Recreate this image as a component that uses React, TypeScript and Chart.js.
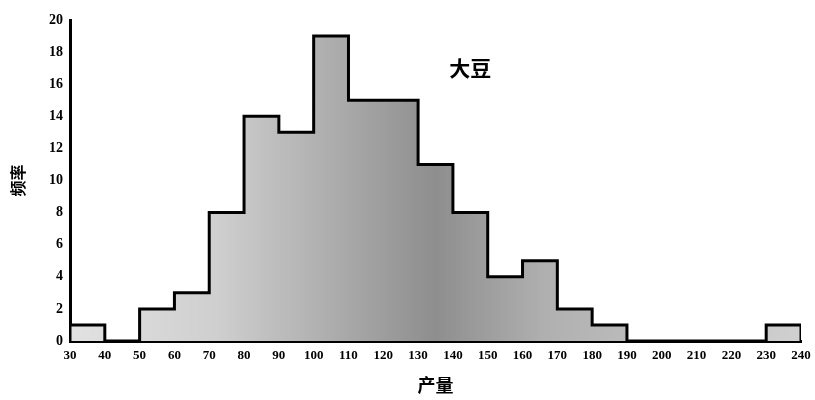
import React, { useEffect, useRef } from "react";
import { Chart, registerables } from "chart.js";

Chart.register(...registerables);

const binStarts = [30, 40, 50, 60, 70, 80, 90, 100, 110, 120, 130, 140, 150, 160, 170, 180, 190, 200, 210, 220, 230];
const counts = [1, 0, 2, 3, 8, 14, 13, 19, 15, 15, 11, 8, 4, 5, 2, 1, 0, 0, 0, 0, 1];
const binWidth = 10;
const xTicks = [30, 40, 50, 60, 70, 80, 90, 100, 110, 120, 130, 140, 150, 160, 170, 180, 190, 200, 210, 220, 230, 240];
const yTicks = [0, 2, 4, 6, 8, 10, 12, 14, 16, 18, 20];
const cropLabel = "大豆";
const cropLabelPos = { x: 145, y: 17 };
const xTitle = "产量";
const yTitle = "频率";

const labelPlugin = {
  id: "cropLabel",
  afterDatasetsDraw(chart: any) {
    const { ctx, scales } = chart;
    const px = scales.x.getPixelForValue(cropLabelPos.x);
    const py = scales.y.getPixelForValue(cropLabelPos.y);
    ctx.save();
    ctx.fillStyle = "#000";
    ctx.font = "bold 21px 'Noto Sans CJK SC'";
    ctx.textAlign = "center";
    ctx.textBaseline = "middle";
    ctx.fillText(cropLabel, px, py);
    ctx.restore();
  },
};

export default function App() {
  const ref = useRef<HTMLCanvasElement>(null);
  useEffect(() => {
    if (!ref.current) return;
    const pts: { x: number; y: number }[] = [{ x: binStarts[0], y: 0 }];
    binStarts.forEach((s, i) => pts.push({ x: s, y: counts[i] }));
    pts.push({ x: binStarts[binStarts.length - 1] + binWidth, y: counts[counts.length - 1] });
    pts.push({ x: binStarts[binStarts.length - 1] + binWidth, y: 0 });

    const chart = new Chart(ref.current, {
      type: "line",
      data: {
        datasets: [
          {
            data: pts,
            stepped: "before",
            borderColor: "#000",
            borderWidth: 3,
            pointRadius: 0,
            fill: "origin",
            backgroundColor: (c: any) => {
              const area = c.chart.chartArea;
              if (!area) return "#bbb";
              const g = c.chart.ctx.createLinearGradient(area.left, 0, area.right, 0);
              g.addColorStop(0, "#e2e2e2");
              g.addColorStop(0.2, "#cfcfcf");
              g.addColorStop(0.38, "#a8a8a8");
              g.addColorStop(0.5, "#8e8e8e");
              g.addColorStop(0.65, "#b0b0b0");
              g.addColorStop(1, "#d0d0d0");
              return g;
            },
          } as any,
        ],
      },
      options: {
        animation: false,
        responsive: true,
        maintainAspectRatio: false,
        layout: { padding: { top: 20, right: 14, left: 4, bottom: 0 } },
        plugins: { legend: { display: false }, tooltip: { enabled: false } },
        scales: {
          x: {
            type: "linear",
            min: 30,
            max: 240,
            afterBuildTicks: (s: any) => {
              s.ticks = xTicks.map((v) => ({ value: v }));
            },
            afterFit: (s: any) => {
              s.height = 59;
            },
            grid: { display: false, drawTicks: true, tickLength: 5, tickColor: "#000", tickWidth: 2 } as any,
            border: { display: true, color: "#000", width: 3 },
            ticks: {
              color: "#000",
              font: { family: "'Liberation Serif'", size: 13, weight: "bold" },
              maxRotation: 0,
              autoSkip: false,
              padding: 2,
            },
            title: {
              display: true,
              text: xTitle,
              color: "#000",
              font: { family: "'Noto Sans CJK SC'", size: 18, weight: "bold" },
              padding: { top: 2 },
            },
          },
          y: {
            min: 0,
            max: 20,
            afterBuildTicks: (s: any) => {
              s.ticks = yTicks.map((v) => ({ value: v }));
            },
            afterFit: (s: any) => {
              s.width = 66;
            },
            grid: { display: false, drawTicks: true, tickLength: 5, tickColor: "#000", tickWidth: 2 } as any,
            border: { display: true, color: "#000", width: 3 },
            ticks: {
              color: "#000",
              font: { family: "'Liberation Serif'", size: 14, weight: "bold" },
              padding: 2,
            },
            title: {
              display: true,
              text: yTitle,
              color: "#000",
              font: { family: "'Noto Sans CJK SC'", size: 16, weight: "bold" },
              padding: { bottom: 6 },
            },
          },
        },
      },
      plugins: [labelPlugin],
    });
    return () => chart.destroy();
  }, []);
  return (
    <div style={{ position: "fixed", left: 0, top: 0, width: 815, height: 400, background: "#fff" }}>
      <canvas ref={ref} />
    </div>
  );
}
